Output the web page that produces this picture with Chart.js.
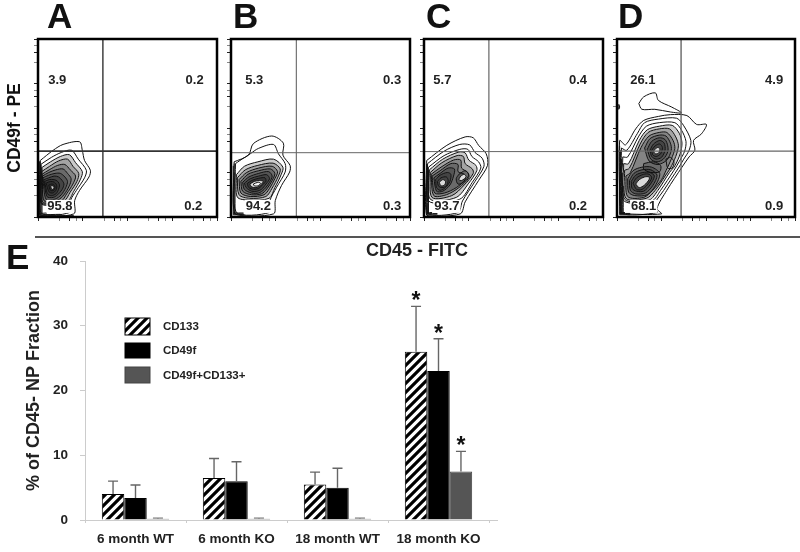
<!DOCTYPE html>
<html>
<head>
<meta charset="utf-8">
<title>CD49f / CD133 flow cytometry</title>
<script src="https://cdn.jsdelivr.net/npm/chart.js@4"></script>
<style>
  html, body { margin: 0; background: #fff; width: 800px; height: 552px; overflow: hidden; }
  body { position: relative; font-family: "Liberation Sans", Arial, sans-serif; color: #111; }
  canvas { position: absolute; filter: blur(0.35px); }
  .letter { position: absolute; font-weight: bold; font-size: 35px; line-height: 36px; filter: blur(0.4px); }
  .rule { position: absolute; left: 35px; top: 236px; width: 765px; height: 2px; background: #555; }
  .xname { position: absolute; left: 317px; top: 241px; width: 200px; text-align: center; font-weight: bold; font-size: 18px; line-height: 18px; color: #222; filter: blur(0.3px); }
</style>
</head>
<body>
<div class="letter" style="left:47px;top:-2px">A</div>
<div class="letter" style="left:233px;top:-2px">B</div>
<div class="letter" style="left:426px;top:-2px">C</div>
<div class="letter" style="left:618px;top:-2px">D</div>
<div class="letter" style="left:6px;top:239px">E</div>
<div class="rule"></div>
<div class="xname">CD45 - FITC</div>

<canvas id="panelA"></canvas>
<canvas id="panelB"></canvas>
<canvas id="panelC"></canvas>
<canvas id="panelD"></canvas>
<canvas id="barChart"></canvas>

<script>
// --- bar chart values
const groups = ['6 month WT', '6 month KO', '18 month WT', '18 month KO'];
const cd133 = [4, 6.5, 5.5, 26];
const cd49f = [3.4, 6, 5, 23];
const cd49fCd133 = [0.2, 0.2, 0.2, 7.5];
const cd133Top = [6, 9.5, 7.4, 33];
const cd49fTop = [5.4, 9, 8, 28];
const bothTop = [0.3, 0.3, 0.3, 10.6];
const yTicks = [0, 10, 20, 30, 40];

// quadrant percentages: upper left, upper right, lower left, lower right
const quadA = ['3.9', '0.2', '95.8', '0.2'];
const quadB = ['5.3', '0.3', '94.2', '0.3'];
const quadC = ['5.7', '0.4', '93.7', '0.2'];
const quadD = ['26.1', '4.9', '68.1', '0.9'];

// gates in log decades [x, y]
const gateA = [1.45, 1.48];
const gateB = [1.46, 1.445];
const gateC = [1.45, 1.47];
const gateD = [1.44, 1.48];

const logTicks = [0, .48, .7, .85, 1, 1.48, 1.7, 1.85, 2, 2.48, 2.7, 2.85, 3, 3.48, 3.7, 3.85, 4];

// contour lines, traced by eye, flat x,y lists in log decades
const contoursA = [
  [.05,1.27, .34,1.50, .56,1.63, .93,1.69, .99,1.50, 1.04,1.27, 1.17,1.05, 1.14,.90, .93,.60, .82,.37, .80,.07, .04,.05, .05,1.27],
  [.06,1.18, .30,1.34, .52,1.45, .75,1.50, .90,1.30, 1.08,1.05, 1.04,.88, .86,.60, .73,.38, .70,.10, .06,.10, .06,1.18],
  [.07,1.10, .28,1.24, .50,1.36, .70,1.40, .84,1.22, .99,1.02, .95,.85, .80,.58, .66,.36, .07,.30, .07,1.10],
  [.08,1.02, .26,1.14, .46,1.26, .66,1.30, .78,1.14, .91,.98, .87,.80, .72,.56, .58,.36, .08,.32, .08,1.02],
  [.09,.96, .25,1.06, .44,1.16, .60,1.18, .72,1.06, .84,.92, .78,.74, .64,.52, .52,.36, .10,.34, .09,.96],
  [.10,.92, .24,1.0, .40,1.06, .56,1.08, .66,.98, .74,.86, .70,.70, .58,.50, .44,.38, .14,.36, .10,.92],
  [.11,.88, .24,.94, .38,.98, .50,.98, .60,.90, .66,.80, .62,.66, .52,.50, .38,.40, .18,.40, .11,.88],
  [.13,.84, .24,.88, .36,.92, .46,.90, .54,.82, .58,.74, .54,.62, .44,.50, .34,.44, .20,.46, .13,.84],
  [.15,.80, .25,.84, .36,.84, .44,.80, .48,.72, .46,.62, .40,.52, .30,.48, .21,.52, .15,.80],
  [.18,.76, .28,.80, .37,.78, .42,.70, .40,.60, .33,.54, .25,.56, .18,.76],
  [.24,.72, .32,.74, .38,.68, .35,.60, .28,.60, .24,.72],
  [.28,.70, .34,.70, .36,.65, .31,.62, .28,.70],
  [.03,.03, .03,1.25], [.05,.04, .05,1.25], [.07,.05, .07,1.18], [.09,.08, .09,1.1], [.03,.03, .8,.03], [.04,.05, .5,.06], [.04,.08, .2,.09]
];
const contoursB = [
  [.07,1.24, .39,1.39, .50,1.65, .91,1.82, 1.17,1.66, 1.16,1.39, 1.32,1.16, 1.31,1.01, 1.13,.71, .99,.37, .95,.07, .09,.07, .07,1.24],
  [.10,1.2, .20,1.27, .43,1.42, .61,1.54, .95,1.63, 1.06,1.42, 1.21,1.2, 1.21,1.01, 1.02,.67, .87,.37, .85,.1, .12,.1, .10,1.2],
  [.12,.95, .30,1.14, .60,1.24, .95,1.30, 1.16,1.12, 1.12,.95, .98,.66, .85,.42, .40,.38, .14,.45, .12,.95],
  [.14,.88, .32,1.06, .60,1.16, .94,1.21, 1.10,1.08, 1.05,.90, .92,.65, .78,.46, .42,.42, .18,.50, .14,.88],
  [.18,.84, .35,1.0, .62,1.10, .92,1.14, 1.04,1.02, .98,.86, .86,.64, .74,.50, .44,.46, .22,.54, .18,.84],
  [.22,.80, .38,.96, .62,1.04, .88,1.08, .98,.98, .92,.82, .80,.63, .68,.52, .46,.50, .26,.58, .22,.80],
  [.26,.78, .40,.90, .62,.98, .84,1.02, .92,.92, .86,.78, .74,.62, .62,.54, .46,.54, .30,.62, .26,.78],
  [.30,.76, .43,.86, .62,.92, .80,.95, .86,.86, .78,.74, .68,.62, .58,.58, .46,.58, .34,.66, .30,.76],
  [.36,.75, .46,.82, .62,.87, .76,.88, .78,.80, .70,.72, .62,.64, .50,.62, .40,.66, .36,.75],
  [.42,.74, .52,.80, .64,.82, .72,.80, .66,.72, .56,.66, .46,.68, .42,.74],
  [.50,.74, .60,.78, .66,.76, .60,.70, .52,.70, .50,.74],
  [.05,.05, .05,1.15], [.07,.06, .07,1.2], [.09,.08, .09,1.0], [.05,.05, .3,.05], [.07,.07, .28,.07], [.05,.09, .28,.09]
];
const contoursC = [
  [.06,1.27, .51,1.61, .92,1.80, 1.10,1.78, 1.22,1.61, 1.39,1.42, 1.42,1.16, 1.22,.82, .92,.34, .81,.07, .06,.04, .06,1.27],
  [.08,1.2, .45,1.48, .80,1.63, 1.02,1.62, 1.14,1.45, 1.30,1.32, 1.34,1.14, 1.14,.80, .86,.36, .76,.1, .08,.08, .08,1.2],
  [.1,1.12, .45,1.38, .80,1.52, .98,1.52, 1.07,1.36, 1.22,1.24, 1.27,1.10, 1.08,.78, .80,.40, .10,.36, .10,1.12],
  [.12,1.06, .42,1.30, .78,1.46, .92,1.44, 1.0,1.28, 1.16,1.16, 1.18,1.04, 1.0,.76, .72,.44, .14,.40, .12,1.06],
  [.14,1.0, .40,1.22, .74,1.38, .88,1.36, .92,1.2, 1.08,1.08, 1.10,.98, .9,.72, .62,.48, .18,.44, .14,1.0],
  [.16,.96, .38,1.12, .66,1.28, .82,1.28, .84,1.10, .98,1.0, 1.0,.88, .78,.66, .50,.5, .22,.48, .16,.96],
  [.18,.92, .36,1.04, .60,1.2, .76,1.18, .76,1.02, .90,.96, .92,.84, .72,.66, .46,.54, .24,.54, .18,.92],
  [.22,.88, .36,.98, .54,1.1, .68,1.08, .66,.92, .58,.72, .42,.58, .28,.58, .22,.88],
  [.26,.84, .36,.94, .52,1.0, .60,.96, .58,.80, .48,.66, .36,.60, .28,.66, .26,.84],
  [.30,.80, .38,.88, .50,.90, .54,.82, .50,.70, .40,.66, .32,.70, .30,.80],
  [.34,.78, .42,.84, .48,.80, .46,.72, .38,.70, .34,.78],
  [.78,.96, .92,1.04, 1.0,.94, .88,.78, .76,.74, .72,.86, .78,.96],
  [.82,.92, .90,.96, .94,.90, .84,.82, .78,.84, .82,.92],
  [.06,.05, .06,1.2], [.08,.06, .08,1.15], [.1,.08, .1,1.05], [.06,.05, .3,.05], [.08,.08, .3,.08], [.06,.1, .18,.1]
];
const contoursD = [
  [.07,.07, .06,1.72, .19,1.62, .42,1.98, .60,2.17, .93,2.26, 1.2,2.30, 1.57,2.28, 1.79,2.08, 2.01,2.08, 1.90,1.87, 1.72,1.72, 1.75,1.5, 1.62,1.35, 1.46,1.12, 1.12,.6, .9,.19, 1.0,.07, .07,.07],
  [.49,2.55, .60,2.70, .86,2.79, .93,2.62, 1.23,2.47, 1.45,2.34, 1.2,2.36, .85,2.42, .56,2.42, .49,2.55],
  [.1,1.55, .22,1.5, .46,1.88, .62,2.12, .93,2.2, 1.34,2.22, 1.5,2.05, 1.66,1.72, 1.62,1.5, 1.5,1.3, 1.38,1.1, 1.05,.6, .82,.25, .9,.1, .1,.1, .1,1.55],
  [.13,1.35, .24,1.35, .48,1.8, .66,2.04, .95,2.12, 1.3,2.12, 1.45,1.95, 1.55,1.7, 1.52,1.48, 1.4,1.25, 1.28,1.05, .98,.6, .78,.36, .14,.38, .13,1.35],
  [.15,1.2, .26,1.2, .5,1.72, .68,1.96, .95,2.04, 1.24,2.06, 1.4,1.88, 1.46,1.66, 1.42,1.42, 1.3,1.15, 1.18,1.0, .92,.6, .72,.38, .17,.4, .15,1.2],
  [.17,1.05, .28,1.1, .52,1.64, .70,1.9, .95,1.98, 1.18,1.98, 1.32,1.8, 1.38,1.6, 1.32,1.36, 1.2,1.1, 1.08,.92, .86,.6, .66,.42, .2,.42, .17,1.05],
  [.2,.92, .3,1.0, .54,1.56, .72,1.82, .95,1.9, 1.12,1.9, 1.26,1.72, 1.3,1.54, 1.22,1.3, 1.1,1.04, 1.0,.84, .8,.6, .6,.44, .24,.46, .2,.92],
  [.62,1.55, .74,1.76, .95,1.84, 1.1,1.82, 1.2,1.66, 1.22,1.5, 1.12,1.28, .92,1.18, .72,1.26, .62,1.55],
  [.68,1.52, .78,1.7, .95,1.78, 1.08,1.74, 1.14,1.6, 1.14,1.46, 1.04,1.3, .9,1.24, .76,1.3, .68,1.52],
  [.74,1.5, .82,1.64, .96,1.72, 1.06,1.66, 1.08,1.5, 1.0,1.34, .88,1.3, .78,1.36, .74,1.5],
  [.78,1.5, .86,1.6, .96,1.64, 1.02,1.56, .98,1.42, .88,1.36, .8,1.4, .78,1.5],
  [.82,1.48, .9,1.56, .96,1.54, .94,1.44, .86,1.42, .82,1.48],
  [1.1,1.3, 1.2,1.34, 1.28,1.24, 1.24,1.1, 1.14,1.1, 1.1,1.3],
  [.6,1.2, .82,1.24, .98,1.16, .96,1.02, .76,1.0, .6,1.08, .6,1.2],
  [.24,.86, .36,1.04, .56,1.12, .78,1.12, .96,.98, .86,.7, .68,.5, .4,.48, .26,.56, .24,.86],
  [.28,.82, .38,.98, .56,1.06, .76,1.06, .9,.94, .8,.7, .64,.54, .42,.52, .3,.6, .28,.82],
  [.32,.8, .42,.94, .58,1.0, .74,1.0, .84,.92, .74,.72, .6,.58, .44,.58, .34,.64, .32,.8],
  [.36,.76, .44,.88, .6,.96, .72,.96, .78,.88, .68,.72, .56,.62, .44,.62, .36,.76],
  [.42,.74, .5,.84, .62,.9, .72,.9, .72,.84, .62,.72, .5,.66, .42,.74],
  [.04,2.42, .06,2.47, .04,2.53, .04,2.42],
  [.06,.05, .06,1.6], [.08,.06, .08,1.5], [.10,.06, .10,1.3], [.12,.06, .12,1.0], [.14,.06, .14,.7], [.06,.05, .3,.05], [.08,.08, .3,.08], [.06,.1, .18,.1]
];

// contour indexes that get a dark wash, and the light core of each peak
const shadeA = [2, 3, 4, 5, 6, 7, 8, 9];
const coreA = [11];
const shadeB = [2, 3, 4, 5, 6, 7, 8];
const coreB = [9, 10];
const shadeC = [3, 4, 5, 6, 7, 8, 11];
const coreC = [10, 12];
const shadeD = [4, 5, 6, 7, 8, 9, 13, 14, 15, 16];
const coreD = [11, 18];

// where the four percentages sit in each panel, log decades
const labelSpotsA = [[.43, 3.07], [3.5, 3.07], [.49, .25], [3.47, .25]];
const labelSpotsB = [[.52, 3.07], [3.6, 3.07], [.61, .25], [3.6, .25]];
const labelSpotsC = [[.41, 3.07], [3.44, 3.07], [.51, .25], [3.44, .25]];
const labelSpotsD = [[.58, 3.07], [3.53, 3.07], [.6, .25], [3.53, .25]];

const textFont = '"Liberation Sans", Arial, sans-serif';

function toPoints(flat) {
  const pts = [];
  for (let i = 0; i < flat.length; i += 2) pts.push({ x: flat[i], y: flat[i + 1] });
  return pts;
}

function placeCanvas(id, left, top, width, height) {
  const c = document.getElementById(id);
  c.style.left = left + 'px';
  c.style.top = top + 'px';
  c.width = width;
  c.height = height;
  return c;
}

// frame, and percentages with the white box on the lower left one
const panelPlugin = {
  id: 'panelExtras',
  afterDatasetsDraw(chart, args, opts) {
    const { ctx, chartArea: a, scales } = chart;
    ctx.save();
    ctx.font = 'bold 13px ' + textFont;
    ctx.textAlign = 'center';
    ctx.textBaseline = 'middle';
    opts.texts.forEach((t, i) => {
      const x = scales.x.getPixelForValue(opts.spots[i][0]);
      const y = scales.y.getPixelForValue(opts.spots[i][1]);
      if (i === 2) {
        ctx.fillStyle = '#fff';
        ctx.fillRect(x - ctx.measureText(t).width / 2 - 1, y - 6, ctx.measureText(t).width + 2, 13);
      }
      ctx.fillStyle = '#222';
      ctx.fillText(t, x, y + 0.5);
    });
    ctx.strokeStyle = '#000';
    ctx.lineWidth = 2.5;
    ctx.strokeRect(a.left, a.top, a.right - a.left, a.bottom - a.top);
    ctx.restore();
  }
};

function makePanel(id, left, width, contours, gate, texts, spots, shade, core, gateStyle, yTitle) {
  const leftRoom = yTitle ? left : 8;
  const canvasLeft = left - leftRoom;
  const canvas = placeCanvas(id, canvasLeft, 34, leftRoom + width + 5, 191);

  const datasets = contours.map((c, i) => {
    const isCore = core.includes(i);
    const isShade = shade.includes(i);
    return {
      data: toPoints(c), showLine: true, pointRadius: 0,
      borderColor: '#111', borderWidth: 1, tension: 0.3,
      fill: (isCore || isShade) ? 'shape' : false,
      backgroundColor: isCore ? 'rgba(255,255,255,.8)' : 'rgba(0,0,0,.2)'
    };
  });
  datasets.push({
    data: toPoints([gate[0], 0, gate[0], 4]), showLine: true, pointRadius: 0,
    borderColor: gateStyle.color, borderWidth: gateStyle.vWidth
  });
  datasets.push({
    data: toPoints([0, gate[1], 4, gate[1]]), showLine: true, pointRadius: 0,
    borderColor: gateStyle.color, borderWidth: gateStyle.hWidth
  });
  // first dataset draws on top in Chart.js, outer lines must stay under the core
  datasets.forEach((d, i) => { d.order = datasets.length - i; });

  const tickColor = ctx => {
    const v = ctx.tick ? ctx.tick.value : 0;
    const frac = v % 1;
    return (frac === 0 || Math.abs(frac - .7) < .01) ? '#222' : '#888';
  };
  const sharedAxis = {
    type: 'linear', min: 0, max: 4,
    afterBuildTicks: s => { s.ticks = logTicks.map(value => ({ value })); },
    ticks: { display: false },
    border: { display: false },
    grid: { drawOnChartArea: false, drawTicks: true, tickLength: 4, tickColor: tickColor, tickWidth: 1 }
  };

  return new Chart(canvas, {
    type: 'scatter',
    data: { datasets },
    options: {
      responsive: false,
      animation: false,
      layout: { padding: { top: 5, right: 5, left: 0, bottom: 0 } },
      plugins: {
        legend: { display: false },
        tooltip: { enabled: false },
        filler: { drawTime: 'beforeDatasetDraw' },
        panelExtras: { texts, spots }
      },
      scales: {
        x: { ...sharedAxis, afterFit: s => { s.height = 8; } },
        y: {
          ...sharedAxis,
          afterFit: s => { s.width = leftRoom; },
          title: yTitle ? {
            display: true, text: yTitle, color: '#111', padding: { top: 5, bottom: 0 },
            font: { family: textFont, size: 17.5, weight: 'bold' }
          } : { display: false }
        }
      }
    },
    plugins: [panelPlugin]
  });
}

makePanel('panelA', 38, 179, contoursA, gateA, quadA, labelSpotsA, shadeA, coreA, { color: '#333', vWidth: 1.4, hWidth: 1.8 }, 'CD49f - PE');
makePanel('panelB', 231, 179, contoursB, gateB, quadB, labelSpotsB, shadeB, coreB, { color: '#666', vWidth: 1.1, hWidth: 1 });
makePanel('panelC', 424, 179, contoursC, gateC, quadC, labelSpotsC, shadeC, coreC, { color: '#666', vWidth: 1.2, hWidth: 1 });
makePanel('panelD', 617, 178, contoursD, gateD, quadD, labelSpotsD, shadeD, coreD, { color: '#666', vWidth: 1.4, hWidth: 1.2 });

// --- panel E
function hatchPattern() {
  const tile = document.createElement('canvas');
  tile.width = 9;
  tile.height = 9;
  const t = tile.getContext('2d');
  t.fillStyle = '#fff';
  t.fillRect(0, 0, 9, 9);
  t.strokeStyle = '#000';
  t.lineWidth = 3.2;
  t.beginPath();
  t.moveTo(-3, 3); t.lineTo(3, -3);
  t.moveTo(0, 9); t.lineTo(9, 0);
  t.moveTo(6, 12); t.lineTo(12, 6);
  t.stroke();
  return tile.getContext('2d').createPattern(tile, 'repeat');
}

const errorTops = [cd133Top, cd49fTop, bothTop];
const starred = [[3], [3], [3]];

const errorBarPlugin = {
  id: 'errorBars',
  afterDatasetsDraw(chart) {
    const { ctx, scales, chartArea } = chart;
    ctx.save();
    // the baseline runs on a little past the last group
    ctx.strokeStyle = '#ccc';
    ctx.lineWidth = 1;
    ctx.beginPath();
    ctx.moveTo(chartArea.right, chartArea.bottom + 0.5);
    ctx.lineTo(498, chartArea.bottom + 0.5);
    ctx.stroke();
    errorTops.forEach((tops, ds) => {
      chart.getDatasetMeta(ds).data.forEach((bar, i) => {
        const top = scales.y.getPixelForValue(tops[i]);
        ctx.strokeStyle = '#666';
        ctx.lineWidth = tops[i] < 1 ? 1 : 1.4;
        ctx.beginPath();
        ctx.moveTo(bar.x, bar.y);
        ctx.lineTo(bar.x, top);
        ctx.moveTo(bar.x - 5, top);
        ctx.lineTo(bar.x + 5, top);
        ctx.stroke();
        if (starred[ds].includes(i)) {
          ctx.fillStyle = '#111';
          ctx.font = 'bold 23px ' + textFont;
          ctx.textAlign = 'center';
          ctx.textBaseline = 'alphabetic';
          ctx.fillText('*', bar.x, top + 2);
        }
      });
    });
    ctx.restore();
  }
};

const legendPlugin = {
  id: 'sideLegend',
  afterDraw(chart) {
    const { ctx } = chart;
    const rows = [[78, 17], [103, 15], [127, 16]];
    ctx.save();
    chart.data.datasets.forEach((d, i) => {
      const [y, h] = rows[i];
      ctx.fillStyle = d.backgroundColor;
      ctx.fillRect(125, y, 25, h);
      ctx.strokeStyle = d.borderColor;
      ctx.lineWidth = 1;
      ctx.strokeRect(125, y, 25, h);
      ctx.fillStyle = '#222';
      ctx.font = 'bold 11.5px ' + textFont;
      ctx.textAlign = 'left';
      ctx.textBaseline = 'middle';
      ctx.fillText(d.label, 163, y + h / 2 + 0.5);
    });
    ctx.restore();
  }
};

new Chart(placeCanvas('barChart', 0, 240, 800, 312), {
  type: 'bar',
  data: {
    labels: groups,
    datasets: [
      { label: 'CD133', data: cd133, backgroundColor: hatchPattern(), borderColor: '#000', borderWidth: 1 },
      { label: 'CD49f', data: cd49f, backgroundColor: '#000', borderColor: '#000', borderWidth: 1 },
      { label: 'CD49f+CD133+', data: cd49fCd133, backgroundColor: '#555', borderColor: '#444', borderWidth: 1 }
    ]
  },
  options: {
    responsive: false,
    animation: false,
    layout: { padding: { top: 21, right: 311, left: 0, bottom: 0 } },
    datasets: { bar: { barPercentage: 1, categoryPercentage: 0.667 } },
    plugins: { legend: { display: false }, tooltip: { enabled: false } },
    scales: {
      x: {
        afterFit: s => { s.height = 32; },
        border: { color: '#ccc' },
        grid: { drawOnChartArea: false, tickLength: 3, color: '#ccc' },
        ticks: { color: '#222', padding: 8, maxRotation: 0, font: { family: textFont, size: 13.5, weight: 'bold' } }
      },
      y: {
        min: 0, max: 40,
        afterFit: s => { s.width = 85; },
        afterBuildTicks: s => { s.ticks = yTicks.map(value => ({ value })); },
        border: { color: '#ccc' },
        grid: { drawOnChartArea: false, tickLength: 5, color: '#ccc' },
        ticks: { color: '#222', padding: 12, font: { family: textFont, size: 13.5, weight: 'bold' } },
        title: {
          display: true, text: '% of CD45- NP Fraction', color: '#222', padding: { top: 23, bottom: 0 },
          font: { family: textFont, size: 18, weight: 'bold' }
        }
      }
    }
  },
  plugins: [errorBarPlugin, legendPlugin]
});
</script>
</body>
</html>
